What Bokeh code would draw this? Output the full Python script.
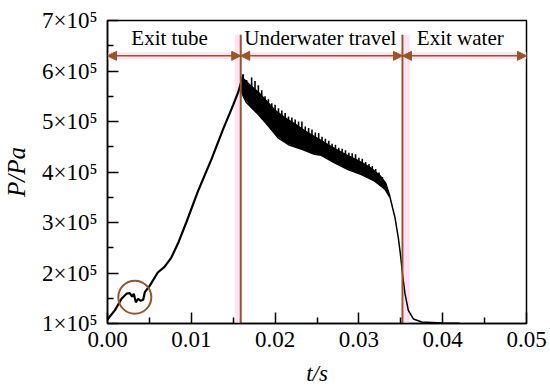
import numpy as np
from bokeh.plotting import figure
from bokeh.models import FixedTicker, Range1d, Arrow, NormalHead
from bokeh.core.properties import value
from bokeh.embed import file_html
from bokeh.resources import INLINE

# ---- data ----
# rising part of the pressure curve (t in s, P in Pa)
t_rise = [0.0, 0.00087, 0.00167, 0.00227, 0.00266, 0.00294, 0.00314, 0.00338, 0.00366,
          0.00397, 0.00426, 0.00445, 0.00505, 0.0060, 0.0068, 0.0076, 0.0085, 0.0094,
          0.0108, 0.0124, 0.0138, 0.0150, 0.0156, 0.0159, 0.0162]
p_rise = [1.08e5, 1.26e5, 1.49e5, 1.59e5, 1.60e5, 1.53e5, 1.59e5, 1.42e5, 1.49e5,
          1.45e5, 1.47e5, 1.62e5, 1.75e5, 2.01e5, 2.12e5, 2.30e5, 2.62e5, 3.00e5,
          3.62e5, 4.25e5, 4.85e5, 5.33e5, 5.58e5, 5.75e5, 5.93e5]

# oscillating band during underwater travel: upper edge of the dense body and lower edge
t_body_top = [0.0159, 0.0162, 0.0170, 0.0180, 0.0190, 0.0200, 0.0212, 0.0224, 0.0235,
              0.0245, 0.0255, 0.0265, 0.0275, 0.0285, 0.0295, 0.0305, 0.0315, 0.0325,
              0.0332, 0.0337]
p_body_top = [5.75e5, 5.85e5, 5.72e5, 5.58e5, 5.40e5, 5.22e5, 5.07e5, 4.95e5, 4.82e5,
              4.72e5, 4.62e5, 4.52e5, 4.43e5, 4.34e5, 4.26e5, 4.17e5, 4.07e5, 3.93e5,
              3.78e5, 3.52e5]
t_band_lo = [0.0159, 0.0162, 0.0166, 0.0180, 0.0192, 0.0204, 0.0216, 0.0232, 0.0247,
             0.0255, 0.0271, 0.0287, 0.0303, 0.0319, 0.0331, 0.0337]
p_band_lo = [5.62e5, 5.50e5, 5.37e5, 5.14e5, 4.91e5, 4.67e5, 4.54e5, 4.45e5, 4.35e5,
             4.33e5, 4.18e5, 4.05e5, 3.95e5, 3.82e5, 3.66e5, 3.50e5]
# pressure spikes rising above the dense body
t_spike = [0.0162, 0.0166, 0.0172, 0.0176, 0.0180, 0.0184, 0.0188, 0.0192, 0.0196, 0.0200,
           0.0204, 0.0208, 0.0212, 0.0216, 0.0220, 0.0224, 0.0228, 0.0232, 0.0236, 0.0240,
           0.0244, 0.0248, 0.0252, 0.0256, 0.0260, 0.0264, 0.0268, 0.0272, 0.0276, 0.0280,
           0.0284, 0.0288, 0.0292, 0.0296, 0.0300, 0.0304, 0.0308, 0.0312, 0.0316, 0.0320,
           0.0324, 0.0328]
p_spike = [5.93e5, 5.82e5, 5.87e5, 5.80e5, 5.72e5, 5.62e5, 5.50e5, 5.44e5, 5.36e5, 5.33e5,
           5.26e5, 5.22e5, 5.17e5, 5.10e5, 5.08e5, 5.04e5, 5.00e5, 5.00e5, 4.90e5, 4.87e5,
           4.84e5, 4.78e5, 4.77e5, 4.70e5, 4.66e5, 4.62e5, 4.56e5, 4.54e5, 4.48e5, 4.46e5,
           4.43e5, 4.38e5, 4.37e5, 4.35e5, 4.28e5, 4.26e5, 4.20e5, 4.16e5, 4.12e5, 4.06e5,
           3.99e5, 3.90e5]

# falling part after the band
t_fall = [0.0337, 0.0343, 0.0347, 0.0350, 0.0352, 0.0355, 0.0359, 0.0365, 0.0375, 0.0399, 0.0420]
p_fall = [3.51e5, 3.10e5, 2.70e5, 2.31e5, 1.98e5, 1.59e5, 1.26e5, 1.09e5, 1.03e5, 1.01e5, 1.005e5]

# phases
phase_bounds = [0.0, 0.0159, 0.0352, 0.05]
phase_names = ["Exit tube", "Underwater travel", "Exit water"]
label_t = [0.0074, 0.0254, 0.0421]
arrow_level = 6.3e5
label_level = 6.66e5
line_top = 6.72e5
glow_shift = [-0.00035, 0.0005]

# highlighted region (circle)
circle_t = [0.00326]
circle_p = [1.52e5]

x_ticks = [0.0, 0.01, 0.02, 0.03, 0.04, 0.05]
x_tick_labels = ["0.00", "0.01", "0.02", "0.03", "0.04", "0.05"]
x_minor = [0.005, 0.015, 0.025, 0.035, 0.045]
y_ticks = [1e5, 2e5, 3e5, 4e5, 5e5, 6e5, 7e5]
y_tick_labels = ["1×10⁵", "2×10⁵", "3×10⁵", "4×10⁵", "5×10⁵", "6×10⁵", "7×10⁵"]
y_minor = [1.5e5, 2.5e5, 3.5e5, 4.5e5, 5.5e5, 6.5e5]

BROWN = "#9a5526"
PINK = "#ffe2f5"
FONT = "Liberation Serif"

p = figure(width=550, height=390, output_backend="svg", toolbar_location=None,
           x_range=Range1d(0, 0.05), y_range=Range1d(1e5, 7e5),
           frame_width=419, frame_height=303,
           min_border_left=106, min_border_right=25, min_border_top=20, min_border_bottom=67)
p.background_fill_color = "white"
p.border_fill_color = "white"
p.outline_line_color = "black"
p.outline_line_width = 1.5
p.grid.visible = False

# axes
p.xaxis.ticker = FixedTicker(ticks=x_ticks, minor_ticks=x_minor)
p.yaxis.ticker = FixedTicker(ticks=y_ticks, minor_ticks=y_minor)
p.xaxis.major_label_overrides = dict(zip(x_ticks, x_tick_labels))
p.yaxis.major_label_overrides = dict(zip(y_ticks, y_tick_labels))
for ax in (p.xaxis, p.yaxis):
    ax.axis_line_width = 1.5
    ax.axis_line_color = "black"
    ax.major_tick_in = 11
    ax.major_tick_out = 0
    ax.minor_tick_in = 6
    ax.minor_tick_out = 0
    ax.major_tick_line_width = 1.5
    ax.minor_tick_line_width = 1.5
    ax.major_label_text_font = FONT
    ax.major_label_text_font_size = "23px"
    ax.major_label_text_color = "black"
    ax.axis_label_text_font = FONT
    ax.axis_label_text_font_style = "italic"
    ax.axis_label_text_color = "black"
p.xaxis.axis_label = "t/s"
p.yaxis.axis_label = "P/Pa"
p.xaxis.axis_label_text_font_size = "23px"
p.yaxis.axis_label_text_font_size = "25px"
p.xaxis.major_label_standoff = 8
p.yaxis.major_label_standoff = 10
p.xaxis.axis_label_standoff = 11
p.yaxis.axis_label_standoff = 9

n = len(phase_names)
inner = phase_bounds[1:-1]

# pink glows (scan artefacts)
p.segment(x0=phase_bounds[:n], y0=[arrow_level] * n, x1=phase_bounds[1:], y1=[arrow_level] * n,
          line_color=PINK, line_width=7)
glow_x = [b + s for b, s in zip(inner, glow_shift)]
p.segment(x0=glow_x, y0=[line_top] * len(inner), x1=glow_x, y1=[1e5] * len(inner),
          line_color=PINK, line_width=6)

# curve
p.varea(x=t_body_top, y1=p_body_top, y2=np.interp(t_body_top, t_band_lo, p_band_lo),
        fill_color="black")
p.line(t_body_top, p_body_top, line_color="black", line_width=1.5)
p.line(t_band_lo, p_band_lo, line_color="black", line_width=1.5)
p.segment(x0=t_spike, y0=np.interp(t_spike, t_body_top, p_body_top) - 0.05e5,
          x1=t_spike, y1=p_spike, line_color="black", line_width=1.6)
p.line(t_rise, p_rise, line_color="black", line_width=2.2)
p.line(t_fall, p_fall, line_color="black", line_width=1.5)

# phase boundaries
p.segment(x0=inner, y0=[line_top] * len(inner), x1=inner, y1=[1e5] * len(inner),
          line_color=BROWN, line_width=2)

# arrows
for i in range(n):
    p.add_layout(Arrow(
        start=NormalHead(size=9, fill_color=BROWN, line_color=BROWN, line_width=1),
        end=NormalHead(size=9, fill_color=BROWN, line_color=BROWN, line_width=1),
        x_start=phase_bounds[i], x_end=phase_bounds[i + 1],
        y_start=arrow_level, y_end=arrow_level,
        line_color=BROWN, line_width=1.5))

p.text(x=label_t, y=[label_level] * n, text=phase_names,
       text_font=value(FONT), text_font_size="21px", text_align="center",
       text_baseline="alphabetic", text_color="black")

# circle
p.scatter(circle_t, circle_p, marker="circle", size=33, fill_color=None,
          line_color=BROWN, line_width=2)

open("out.html", "w").write(file_html(p, INLINE))
